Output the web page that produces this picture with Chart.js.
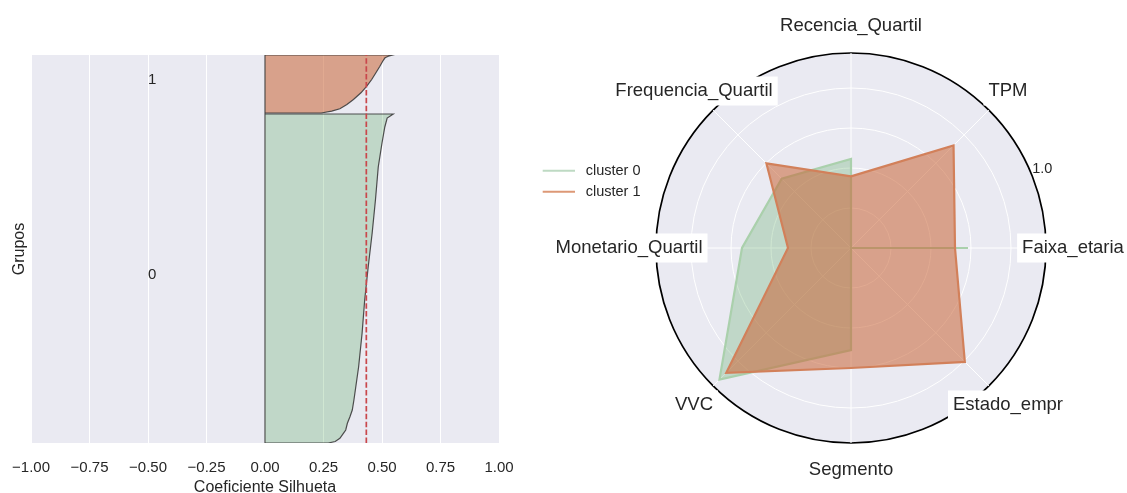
<!DOCTYPE html>
<html>
<head>
<meta charset="utf-8">
<script src="https://cdn.jsdelivr.net/npm/chart.js@4/dist/chart.umd.min.js"></script>
<style>
  html, body { margin: 0; padding: 0; background: #ffffff; overflow: hidden; }
  #painel { position: relative; width: 1127px; height: 493px; }
  #caixaSilhueta { position: absolute; left: 0; top: 0; width: 520px; height: 493px; }
  #caixaRadar { position: absolute; left: 520px; top: 0; width: 607px; height: 493px; }
</style>
</head>
<body>
<div id="painel">
  <div id="caixaSilhueta"><canvas id="silhueta" width="520" height="493"></canvas></div>
  <div id="caixaRadar"><canvas id="radar" width="607" height="493"></canvas></div>
</div>
<script>
// ---------- Silhueta por grupo ----------
const grupos = ['0', '1'];
const tamanhoGrupo = [329, 58];          // amostras em cada grupo
const folgaGrupos = 1;
// coeficientes ordenados (posição dentro do grupo -> coeficiente)
const posicaoGrupo0 = [0, 1.5, 4.7, 9.7, 13, 19.7, 26.3, 33, 43, 76, 110, 143, 176, 210, 243, 276, 300, 316, 325, 329];
const silhuetaGrupo0 = [0.27, 0.30, 0.32, 0.335, 0.345, 0.352, 0.363, 0.373, 0.38, 0.40, 0.415, 0.426, 0.441, 0.458, 0.472, 0.484, 0.50, 0.512, 0.522, 0.548];
const posicaoGrupo1 = [0, 1.8, 4.2, 8.5, 13.5, 20.2, 26.8, 33.5, 40.2, 46.8, 51.8, 55.2, 56.8, 58];
const silhuetaGrupo1 = [0.24, 0.285, 0.32, 0.35, 0.378, 0.41, 0.435, 0.456, 0.474, 0.491, 0.503, 0.513, 0.527, 0.546];
const silhuetaMedia = 0.433;
const ticksSilhueta = [-1, -0.75, -0.5, -0.25, 0, 0.25, 0.5, 0.75, 1];

// ---------- Perfil dos clusters ----------
const variaveis = ['Recencia_Quartil', 'TPM', 'Faixa_etaria', 'Estado_empr', 'Segmento', 'VVC', 'Monetario_Quartil', 'Frequencia_Quartil'];
const nomesClusters = ['cluster 0', 'cluster 1'];
const perfilCluster0 = [0.445, 0, 0.585, 0, 0.51, 0.93, 0.545, 0.49];
const perfilCluster1 = [0.358, 0.725, 0.52, 0.805, 0.60, 0.882, 0.315, 0.598];
const aneisRadar = [0.2, 0.4, 0.6, 0.8];
const limiteRadar = 0.975;
const rotulosRadar = [1.0];

const FONTE = '"Liberation Sans", Arial, Helvetica, sans-serif';
const TEXTO = '#262626';
const FUNDO = '#eaeaf2';
Chart.defaults.font.family = FONTE;
Chart.defaults.color = TEXTO;

const verdeArea = 'rgba(80,165,90,0.27)';
const laranjaArea = 'rgba(200,100,55,0.55)';
const verdeLinha = 'rgb(170,208,172)';
const laranjaLinha = 'rgb(210,128,90)';
const contorno = 'rgba(60,60,60,0.9)';

function sinal(v) {
  return (v < 0 ? '\u2212' : '') + Math.abs(v).toFixed(2);
}

// limites verticais de cada grupo
const inferiorGrupo = [0, tamanhoGrupo[0] + folgaGrupos];
const topoEixo = inferiorGrupo[1] + tamanhoGrupo[1];

function contornoGrupo(inferior, posicoes, valores) {
  const pts = [{ x: 0, y: inferior }];
  posicoes.forEach((p, i) => pts.push({ x: valores[i], y: inferior + p }));
  pts.push({ x: 0, y: inferior + posicoes[posicoes.length - 1] });
  return pts;
}

const pluginSilhueta = {
  id: 'fundoSilhueta',
  beforeDraw(chart) {
    const a = chart.chartArea, ctx = chart.ctx;
    ctx.save();
    ctx.fillStyle = FUNDO;
    ctx.fillRect(a.left, a.top, a.right - a.left, a.bottom - a.top);
    ctx.restore();
  },
  afterDatasetsDraw(chart) {
    const ctx = chart.ctx, sx = chart.scales.x, sy = chart.scales.y;
    ctx.save();
    ctx.font = '15px ' + FONTE;
    ctx.fillStyle = TEXTO;
    ctx.textAlign = 'left';
    ctx.textBaseline = 'alphabetic';
    grupos.forEach((g, i) => {
      const meio = inferiorGrupo[i] + tamanhoGrupo[i] / 2;
      ctx.fillText(g, sx.getPixelForValue(-0.5), sy.getPixelForValue(meio));
    });
    ctx.restore();
  }
};

new Chart(document.getElementById('silhueta'), {
  type: 'line',
  data: {
    datasets: [
      { label: 'media', order: 0, data: [{ x: silhuetaMedia, y: 0 }, { x: silhuetaMedia, y: topoEixo }],
        borderColor: '#c9474b', borderWidth: 1.7, borderDash: [5.5, 2.4], fill: false, pointRadius: 0 },
      { label: 'eixo', order: 1, data: [{ x: 0, y: 0 }, { x: 0, y: topoEixo }],
        borderColor: contorno, borderWidth: 1.2, fill: false, pointRadius: 0 },
      { label: grupos[1], order: 2, data: contornoGrupo(inferiorGrupo[1], posicaoGrupo1, silhuetaGrupo1),
        borderColor: contorno, borderWidth: 1.2, backgroundColor: laranjaArea, fill: 'origin', pointRadius: 0 },
      { label: grupos[0], order: 3, data: contornoGrupo(inferiorGrupo[0], posicaoGrupo0, silhuetaGrupo0),
        borderColor: contorno, borderWidth: 1.2, backgroundColor: verdeArea, fill: 'origin', pointRadius: 0 }
    ]
  },
  options: {
    indexAxis: 'y',
    responsive: false,
    animation: false,
    layout: { autoPadding: false, padding: { top: 55, right: 21, left: 0, bottom: 0 } },
    elements: { line: { tension: 0 } },
    plugins: { legend: { display: false }, tooltip: { enabled: false } },
    scales: {
      x: {
        type: 'linear', position: 'bottom', min: -1, max: 1,
        afterBuildTicks: s => { s.ticks = ticksSilhueta.map(v => ({ value: v })); },
        afterFit: s => { s.height = 50; s.paddingLeft = 0; s.paddingRight = 0; },
        grid: { color: '#ffffff', lineWidth: 1, drawTicks: false },
        border: { display: false },
        ticks: { padding: 15.5, font: { size: 15 }, color: TEXTO, callback: v => sinal(v), maxRotation: 0 },
        title: { display: true, text: 'Coeficiente Silhueta', font: { size: 16, lineHeight: 0.7 }, color: TEXTO, padding: { top: 0, bottom: 0 } }
      },
      y: {
        type: 'linear', position: 'left', min: 0, max: topoEixo,
        afterFit: s => { s.width = 31; s.paddingTop = 0; s.paddingBottom = 0; },
        grid: { display: false },
        border: { display: false },
        ticks: { display: false },
        title: { display: true, text: 'Grupos', font: { size: 16 }, color: TEXTO, padding: { top: 9.5, bottom: 0 } }
      }
    }
  },
  plugins: [pluginSilhueta]
});

// ---------- Radar ----------
const pluginRadar = {
  id: 'molduraRadar',
  beforeDraw(chart) {
    const r = chart.scales.r, ctx = chart.ctx;
    ctx.save();
    ctx.fillStyle = FUNDO;
    ctx.beginPath();
    ctx.arc(r.xCenter, r.yCenter, r.drawingArea, 0, Math.PI * 2);
    ctx.fill();
    ctx.restore();
  },
  afterDraw(chart) {
    const r = chart.scales.r, ctx = chart.ctx;
    ctx.save();
    // nomes das variáveis em caixas brancas
    ctx.font = '18.5px ' + FONTE;
    ctx.textAlign = 'center';
    ctx.textBaseline = 'middle';
    chart.data.labels.forEach((txt, i) => {
      const p = r.getPointPosition(i, r.drawingArea + 27);
      const w = ctx.measureText(txt).width;
      ctx.fillStyle = '#ffffff';
      ctx.fillRect(p.x - w / 2 - 5, p.y - 14.5, w + 10, 29);
      ctx.fillStyle = TEXTO;
      ctx.fillText(txt, p.x, p.y);
    });
    // rótulo radial
    ctx.font = '14.5px ' + FONTE;
    rotulosRadar.forEach(v => {
      const ang = r.getIndexAngle(2) - Math.PI / 2 - Math.PI / 8;
      const d = r.getDistanceFromCenterForValue(v) + 7;
      ctx.fillText(v.toFixed(1), r.xCenter + Math.cos(ang) * d, r.yCenter + Math.sin(ang) * d);
    });
    // legenda
    ctx.textAlign = 'left';
    ctx.font = '14.5px ' + FONTE;
    chart.data.datasets.forEach((ds, i) => {
      const y = 170.7 + i * 21;
      ctx.strokeStyle = ds.legendColor;
      ctx.lineWidth = 2;
      ctx.beginPath();
      ctx.moveTo(22.7, y);
      ctx.lineTo(55, y);
      ctx.stroke();
      ctx.fillStyle = TEXTO;
      ctx.fillText(ds.label, 65.7, y);
    });
    ctx.restore();
  }
};

new Chart(document.getElementById('radar'), {
  type: 'radar',
  data: {
    labels: variaveis,
    datasets: [
      { label: nomesClusters[0], data: perfilCluster0, order: 1, fill: true,
        borderColor: verdeLinha, backgroundColor: verdeArea, borderWidth: 2.2, pointRadius: 0,
        legendColor: 'rgb(190,218,195)' },
      { label: nomesClusters[1], data: perfilCluster1, order: 0, fill: true,
        borderColor: laranjaLinha, backgroundColor: laranjaArea, borderWidth: 2.2, pointRadius: 0,
        legendColor: 'rgb(221,152,118)' }
    ]
  },
  options: {
    responsive: false,
    animation: false,
    layout: { padding: { left: 136, top: 53, right: 81, bottom: 50 } },
    elements: { line: { tension: 0, borderJoinStyle: 'miter' } },
    plugins: { legend: { display: false }, tooltip: { enabled: false } },
    scales: {
      r: {
        min: 0, max: limiteRadar,
        afterBuildTicks: s => { s.ticks = [0, ...aneisRadar, limiteRadar].map(v => ({ value: v })); },
        ticks: { display: false },
        pointLabels: { display: false },
        angleLines: { color: '#ffffff', lineWidth: 1 },
        grid: {
          circular: true,
          color: c => (c.tick && c.tick.value >= limiteRadar ? '#000000' : '#ffffff'),
          lineWidth: c => (c.tick && c.tick.value >= limiteRadar ? 1.7 : 1)
        }
      }
    }
  },
  plugins: [pluginRadar]
});
</script>
</body>
</html>
